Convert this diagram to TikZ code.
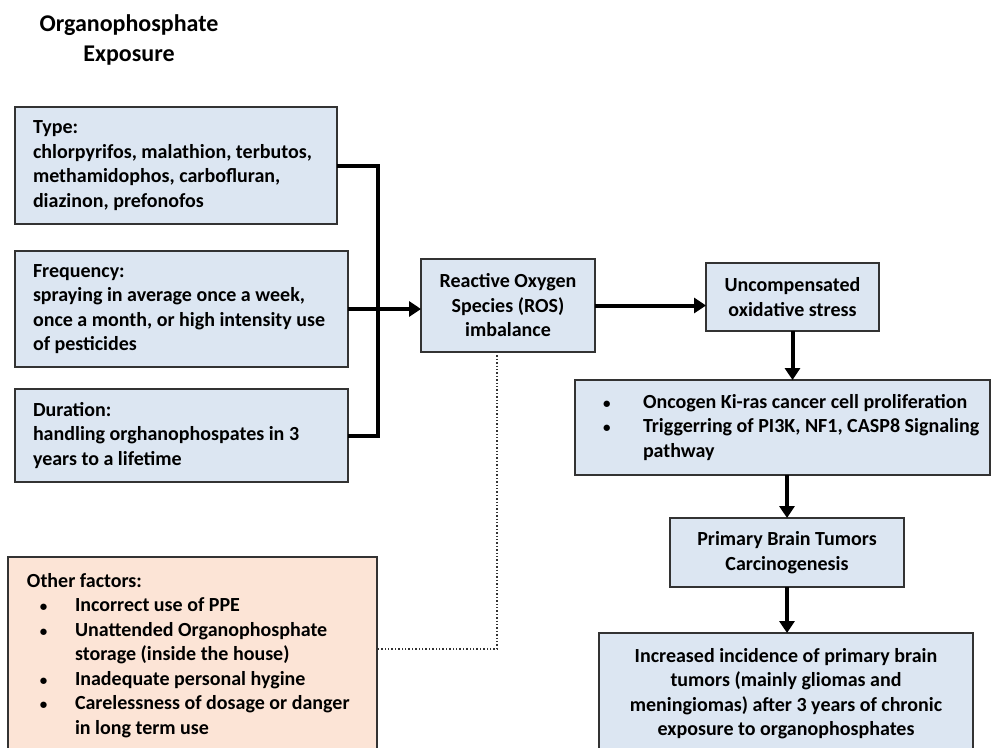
\documentclass[tikz,border=0pt]{standalone}
\usepackage{fontspec}
\setmainfont{Carlito}
\usetikzlibrary{arrows.meta}
\definecolor{stage fill color}{HTML}{DCE6F2}
\definecolor{other fill color}{HTML}{FCE4D6}
\colorlet{box border color}{black!80}
\newcommand{\boxtext}[3]{\parbox{#1}{\raggedright\leftskip=#2\relax\parindent=0pt #3}}
\newcommand{\smallbullet}{{\fontsize{15}{15}\selectfont\textbullet}}
\newcommand{\optitem}[1]{\par\hangindent=48pt\hangafter=1\noindent\makebox[48pt][l]{\hspace{13pt}\smallbullet}#1}
\newcommand{\oncitem}[1]{\par\hangindent=40pt\hangafter=1\noindent\makebox[40pt][l]{\smallbullet}#1}
\tikzset{
    x={1pt},
    y={-1pt},
    stage box/.style={
        draw=box border color, fill=stage fill color,
        line width={1.5pt},
        font={\bfseries\fontsize{20}{24.5}\selectfont},
        inner sep=0pt,
        outer sep=0pt,
        align=center,
    },
    factor box/.style={
        stage box,
    },
    other box/.style={
        factor box,
        fill=other fill color,
    },
    title label/.style={
        font={\bfseries\fontsize{24}{30}\selectfont},
        align=center,
        inner sep=0pt,
    },
    flow/.style={
        draw=black,
        line width={4pt},
        -{Triangle[length=12pt,width=15pt]},
    },
    bus/.style={
        draw=black,
        line width={4pt},
    },
    link/.style={
        draw=black!80,
        line width={1.4pt},
        dotted,
    },
}

\begin{document}
\begin{tikzpicture}
\useasboundingbox (0,0) rectangle (993,747);
\clip (0,0) rectangle (993,747);
% title
\node[title label] (title) at (129,40) {Organophosphate\\Exposure};
% factors
\node[factor box, minimum width=322pt, minimum height=117pt] (type) at (176,165.5)
    {\boxtext{306pt}{10pt}{Type:\\chlorpyrifos, malathion, terbutos,\\methamidophos, carbofluran,\\diazinon, prefonofos}};
\node[factor box, minimum width=333pt, minimum height=116pt] (freq) at (181.5,309)
    {\boxtext{317pt}{10pt}{Frequency:\\spraying in average once a week,\\once a month, or high intensity use\\of pesticides}};
\node[factor box, minimum width=333pt, minimum height=93pt] (dur) at (181.5,435.5)
    {\boxtext{317pt}{10pt}{Duration:\\handling orghanophospates in 3\\years to a lifetime}};
\node[other box, minimum width=369pt, minimum height=197pt] (other) at (192.5,655.5)
    {\boxtext{353pt}{11pt}{Other factors:
    \optitem{Incorrect use of PPE}
    \optitem{Unattended Organophosphate\newline storage (inside the house)}
    \optitem{Inadequate personal hygine}
    \optitem{Carelessness of dosage or danger\newline in long term use}}};
% stages
\node[stage box, minimum width=174pt, minimum height=93pt] (ros) at (508,305.5)
    {Reactive Oxygen\\Species (ROS)\\imbalance};
\node[stage box, minimum width=173pt, minimum height=68pt] (stress) at (792.5,297)
    {Uncompensated\\oxidative stress};
\node[factor box, minimum width=415pt, minimum height=95pt] (oncogen) at (782.5,427.5)
    {\boxtext{407pt}{24pt}{\oncitem{Oncogen Ki-ras cancer cell proliferation}
    \oncitem{Triggerring of PI3K, NF1, CASP8 Signaling\newline pathway}}};
\node[stage box, minimum width=234pt, minimum height=69pt] (tumor) at (787,552.5)
    {Primary Brain Tumors\\Carcinogenesis};
\node[stage box, minimum width=374pt, minimum height=121pt] (incidence) at (786,693.5)
    {Increased incidence of primary brain\\tumors (mainly gliomas and\\meningiomas) after 3 years of chronic\\exposure to organophosphates};
% connectors
\coordinate (join) at (378,0);
\draw[bus] (type.east) -| (join |- dur.east) -- (dur.east);
\draw[flow] (freq.east) -- (freq.east -| ros.west);
\draw[flow] (ros.east) -- (ros.east -| stress.west);
\draw[flow] (stress.south) -- (stress.south |- oncogen.north);
\draw[flow] (tumor.north |- oncogen.south) -- (tumor.north);
\draw[flow] (tumor.south) -- (tumor.south |- incidence.north);
\draw[link] ([xshift=-11pt]ros.south) |- ([yshift=6.5pt]other.east);
\end{tikzpicture}
\end{document}
